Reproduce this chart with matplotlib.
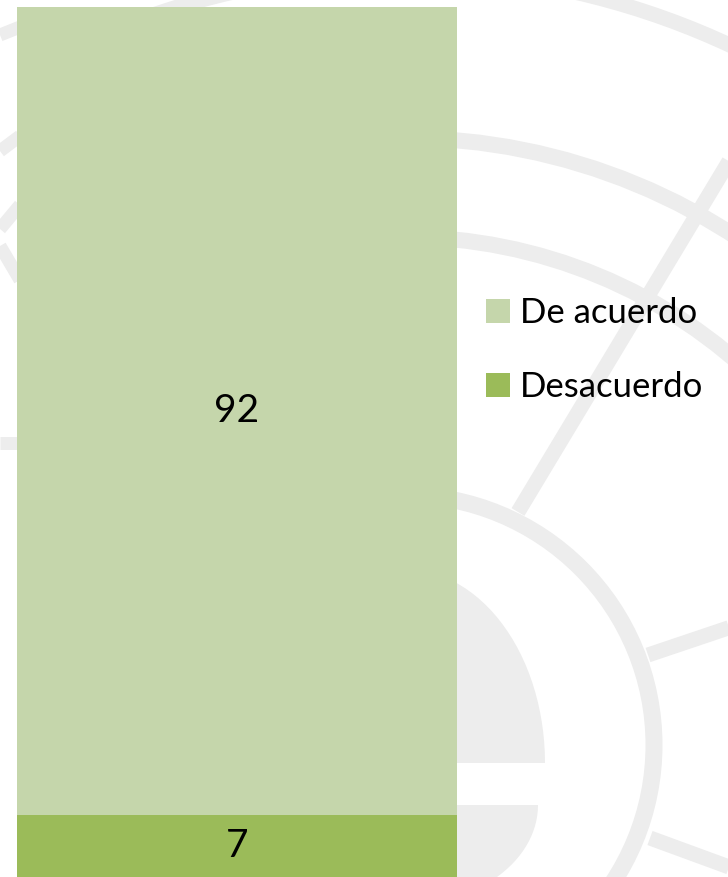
import matplotlib
matplotlib.use("Agg")
import matplotlib.pyplot as plt
from matplotlib.patches import Circle, Rectangle, Polygon
import numpy as np

# ---- data ----
categories = ["De acuerdo", "Desacuerdo"]
values = [92, 7]          # stacked: Desacuerdo at bottom, De acuerdo on top
colors = {"De acuerdo": "#C5D6AB", "Desacuerdo": "#9BBB59"}

W, H = 728, 877
fig = plt.figure(figsize=(W / 100, H / 100), dpi=100, facecolor="white")

# ---- faint watermark background (decorative) ----
bg = fig.add_axes([0, 0, 1, 1], zorder=-5)
bg.set_xlim(0, W)
bg.set_ylim(H, 0)
bg.axis("off")
wm = "#EDEDED"
px = 72 / 100  # points per pixel
clip = Rectangle((17, 0), W, H, transform=bg.transData)
cx, cy = 404, 745
for r, lw in [(250, 17), (508, 16), (607, 16), (772, 15)]:
    c = Circle((cx, cy), r, fill=False, ec=wm, lw=lw * px)
    bg.add_patch(c)
    c.set_clip_path(clip)
t = np.linspace(0, np.pi, 60)
upper = np.column_stack([404 + 141 * np.cos(t), 763 - 194 * np.sin(t)])
bg.add_patch(Polygon(upper, closed=True, fc=wm, ec="none"))
lower = np.column_stack([404 + 134 * np.cos(t), 805 + 100 * np.sin(t)])
bg.add_patch(Polygon(lower, closed=True, fc=wm, ec="none"))
for (x0, y0, x1, y1) in [(740, 143, 518, 512), (648, 655, 740, 624), (650, 838, 740, 871)]:
    bg.plot([x0, x1], [y0, y1], color=wm, lw=15 * px, solid_capstyle="butt")
for (x0, y0, x1, y1) in [(0, 35, 20, 27), (0, 151, 20, 136), (0, 229, 20, 205),
                         (0, 246, 20, 280), (0, 443, 20, 443)]:
    bg.plot([x0, x1], [y0, y1], color=wm, lw=13 * px, solid_capstyle="butt")

# ---- stacked bar ----
ax = fig.add_axes([17 / W, 0, 440 / W, 870 / H])
ax.patch.set_alpha(0)
bottom = 0
bars = {}
for cat, val in zip(["Desacuerdo", "De acuerdo"], [values[1], values[0]]):
    b = ax.bar(0, val, width=1.0, bottom=bottom, color=colors[cat], label=cat)
    bars[cat] = b
    ax.bar_label(b, labels=[str(val)], label_type="center", fontsize=28,
                 family="Lato", color="black")
    bottom += val
ax.set_xlim(-0.5, 0.5)
ax.set_ylim(0, sum(values))
ax.axis("off")

handles = [bars["De acuerdo"], bars["Desacuerdo"]]
leg = fig.legend(handles, categories,
                 loc="center left", bbox_to_anchor=(486 / W, 1 - 350 / H),
                 frameon=False, prop={"family": "Lato", "size": 25},
                 handlelength=0.69, handleheight=0.69, handletextpad=0.29,
                 labelspacing=1.2, borderpad=0, borderaxespad=0)

fig.savefig("out.png", dpi=100, facecolor="white")
